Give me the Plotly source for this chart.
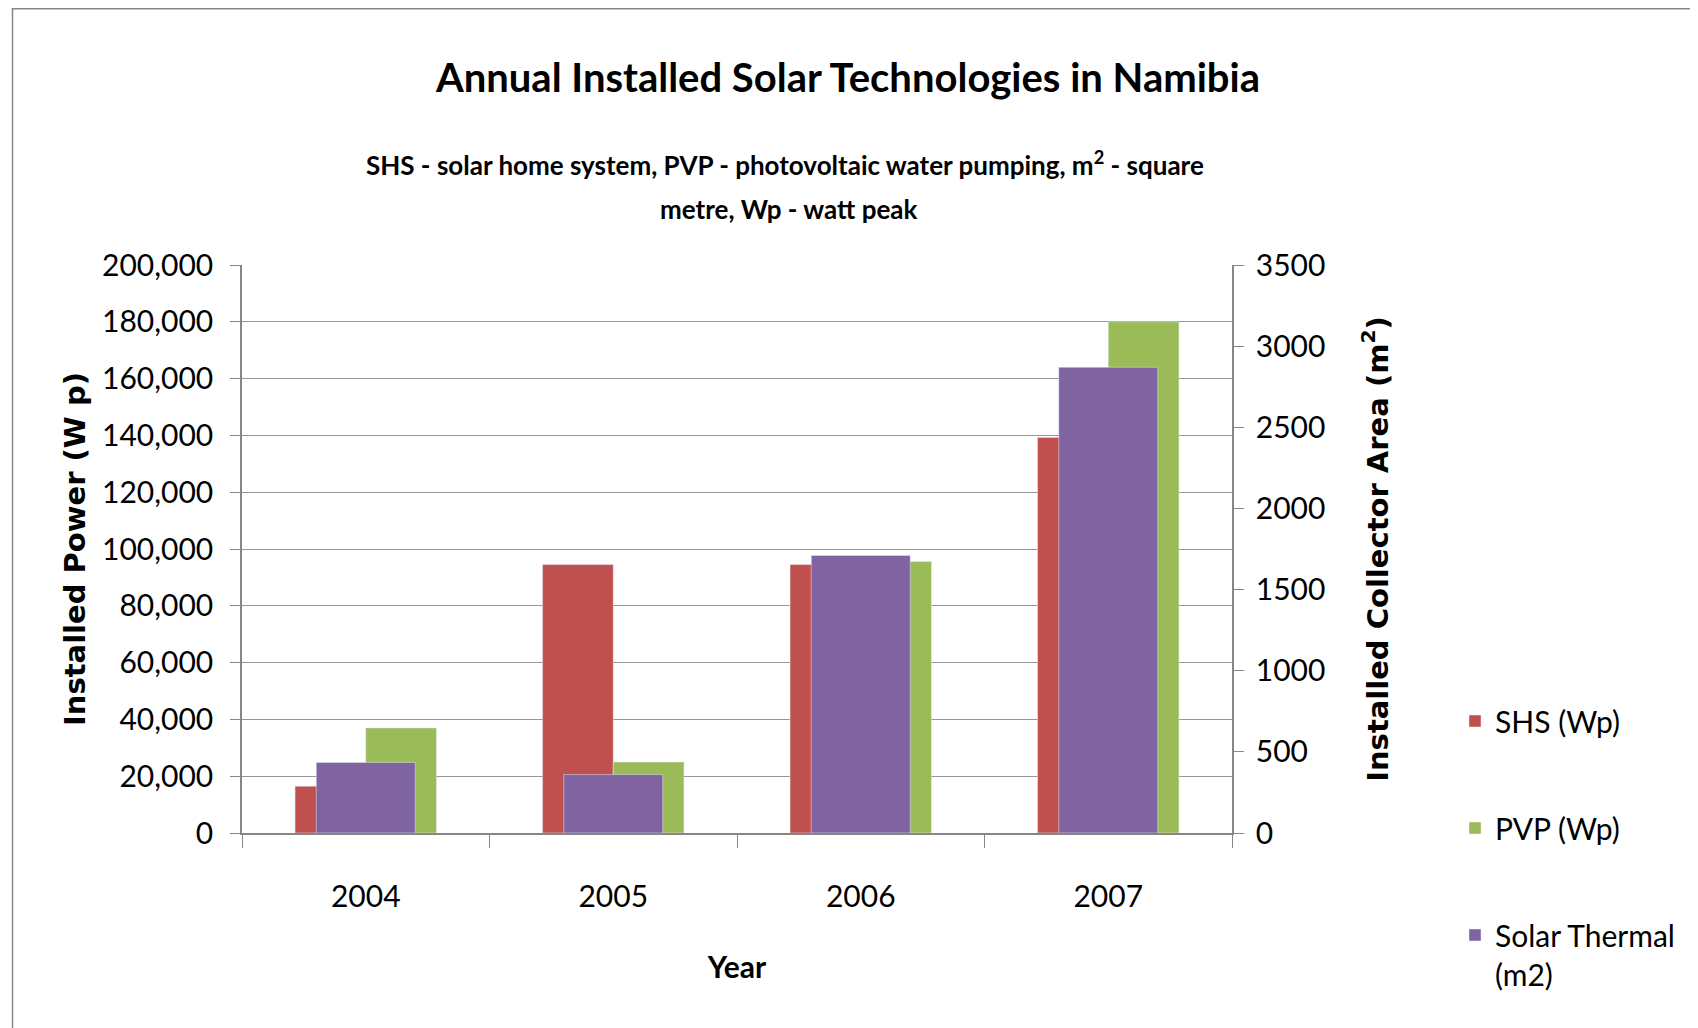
import plotly.graph_objects as go

years = ["2004", "2005", "2006", "2007"]
shs_wp = [16500, 94500, 94500, 139300]
pvp_wp = [37000, 25000, 95600, 180000]
solar_thermal_m2 = [435, 360, 1710, 2870]

left_ticks = [0, 20000, 40000, 60000, 80000, 100000, 120000, 140000, 160000, 180000, 200000]
right_ticks = [0, 500, 1000, 1500, 2000, 2500, 3000, 3500]

FONT = "Lato"
TFONT = "DejaVu Sans"
W, H = 1698, 1028
OFF = 8  # page body margin
# plot-area edges in page (screenshot) pixels
SL, SR, ST, SB = 242, 1232, 265, 833
L, R, T, B = SL - OFF, SR - OFF, ST - OFF, SB - OFF


def px(xs):
    return (xs - OFF - L) / (R - L)


def py(ys):
    return (B - (ys - OFF)) / (B - T)


AXC = "#868686"

fig = go.Figure()
fig.add_trace(go.Bar(x=years, y=shs_wp, name="SHS (Wp)", marker_color="#C0504D",
                     width=0.2857, offset=-0.2857, yaxis="y", legendgroup="a"))
fig.add_trace(go.Bar(x=years, y=pvp_wp, name="PVP (Wp)", marker_color="#9BBB59",
                     width=0.2857, offset=0.0, yaxis="y", legendgroup="b"))
fig.add_trace(go.Bar(x=years, y=solar_thermal_m2, name="Solar Thermal<br>(m2)", marker_color="#8064A2",
                     width=0.4, offset=-0.2, yaxis="y2", legendgroup="c"))

fig.update_layout(
    width=W, height=H,
    margin=dict(l=L, r=W - R, t=T, b=H - B, autoexpand=False),
    paper_bgcolor="white", plot_bgcolor="white",
    font=dict(family=FONT, color="black"),
    title=dict(text="<b>Annual Installed Solar Technologies in Namibia</b>",
               x=(848 - OFF) / W, xanchor="center", y=1 - (78 - OFF) / H, yanchor="middle",
               font=dict(size=40, family=FONT)),
    xaxis=dict(type="category", showline=True, linecolor=AXC, linewidth=1.5,
               ticks="outside", ticklen=13, tickcolor=AXC, tickson="boundaries",
               tickfont=dict(size=30), ticklabelstandoff=36,
               title=dict(text="<b>Year</b>", font=dict(size=30), standoff=45),
               showgrid=False),
    yaxis=dict(range=[0, 200000], tickvals=left_ticks, tickformat=",d", showline=True,
               linecolor=AXC, linewidth=1.5, ticks="outside", ticklen=10, tickcolor=AXC,
               showgrid=True, gridcolor="#969696", gridwidth=1.2, zeroline=False,
               tickfont=dict(size=30), ticklabelstandoff=11,
               title=dict(text="<b>Installed Power (W p)</b>", font=dict(size=29, family=TFONT), standoff=8)),
    yaxis2=dict(range=[0, 3500], tickvals=right_ticks, overlaying="y", side="right",
                showline=True, linecolor=AXC, linewidth=1.5, ticks="outside", ticklen=10,
                tickcolor=AXC, showgrid=False, zeroline=False, tickfont=dict(size=30),
                ticklabelstandoff=6,
                title=dict(text="<b>Installed Collector Area (m<sup>2</sup>)</b>",
                           font=dict(size=29, family=TFONT), standoff=43)),
    barmode="overlay",
    showlegend=True,
    legend=dict(x=(1447 - L) / (R - L), xanchor="left", y=(B - 687) / (B - T), yanchor="top",
                traceorder="grouped", tracegroupgap=65, valign="top",
                font=dict(size=30, family=FONT), bgcolor="rgba(0,0,0,0)"),
)

fig.add_annotation(text="<b>SHS - solar home system, PVP - photovoltaic water pumping, m<sup>2</sup> - square</b>",
                   xref="paper", yref="paper", x=px(785), y=py(164),
                   xanchor="center", yanchor="middle", showarrow=False, font=dict(size=26, family=FONT))
fig.add_annotation(text="<b>metre, Wp - watt peak</b>",
                   xref="paper", yref="paper", x=px(788), y=py(209),
                   xanchor="center", yanchor="middle", showarrow=False, font=dict(size=26, family=FONT))

# chart area border
fig.add_shape(type="rect", xref="paper", yref="paper",
              x0=px(12.5), x1=px(1730), y0=py(1060), y1=py(8.75),
              line=dict(color=AXC, width=1.5), fillcolor="rgba(0,0,0,0)", layer="below")

fig.write_html("out.html")
